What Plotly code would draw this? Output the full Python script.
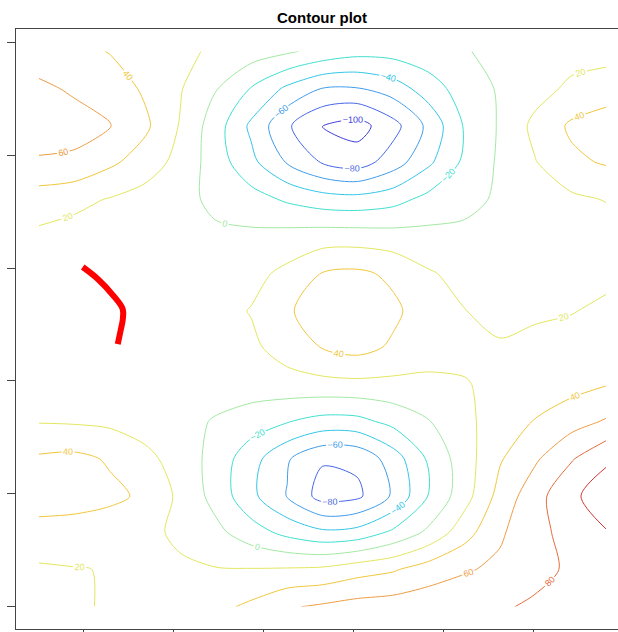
import plotly.graph_objects as go

# grid coordinates (data units)
x_grid = [0.5, 0.89, 1.29, 1.68, 2.08, 2.47, 2.86, 3.26, 3.65, 4.04, 4.44, 4.83, 5.23, 5.62, 6.01, 6.41, 6.80]
# rows listed from top (largest y) to bottom
y_grid_top_down = [4.92, 4.59, 4.26, 3.94, 3.61, 3.28, 2.95, 2.62, 2.30, 1.97, 1.64, 1.31, 0.98, 0.66, 0.33, 0.0]

z_rows_top_down = [
    [52, 46, 39, 31, 24, 17, 10, 3, -6, -13, -12, -7, -1, 4, 8, 12, 14],
    [63, 58, 51, 37, 21, 1, -21, -44, -60.5, -61, -50, -30, -10, 2, 12, 24, 28],
    [69, 66, 61, 44, 18, -11, -44, -77, -100.5, -108, -87, -55, -18, 2, 25, 43, 52],
    [58, 57, 44, 31, 13, -10, -35, -62, -82, -90, -70, -44, -16, 3, 19, 36, 42],
    [30, 25, 19, 12, 5, -4, -12, -23, -31, -33, -27, -14, -6, 3, 10, 16, 21],
    [16, 13, 10, 7, 5, 3, 4, 7, 10, 10, 8, 6, 5, 5, 6, 8, 10],
    [10, 8, 7, 7, 8, 10, 14, 25, 41, 44, 36, 22, 14, 12, 12, 13, 15],
    [8, 6, 6, 7, 9, 13, 21, 37, 52, 54, 44, 29, 20.3, 17, 17, 19, 24],
    [9, 7, 7, 8, 10, 12, 16, 29, 41, 47, 37, 28, 24, 21, 25, 28, 32],
    [12, 10, 10, 10, 10, 10, 10, 12, 14, 15, 15, 16, 19, 24, 28, 33, 39],
    [19, 18, 16, 12, 7, -2, -10, -19, -27, -26, -14, -1, 15, 30, 41, 52, 62],
    [43, 45, 38, 25, 12, -8, -32, -58, -78, -76, -50, -17, 11, 38, 57, 78, 97],
    [48, 47, 44, 37, 15, -7, -35, -61, -88, -84, -57, -19, 12, 47, 72, 96, 110],
    [34, 33, 30, 25, 16, 5, -11, -26, -36, -33, -16, 4, 32, 57, 74, 87, 99],
    [17, 19, 21, 24, 23, 21, 21, 22, 24, 32, 38, 50, 58, 64, 72, 84, 93],
    [12, 16, 23, 27, 30, 35, 44, 58, 63, 68, 70, 72, 74, 77, 84, 90, 93],
]

# overlaid red path
path_x = [0.989, 1.156, 1.333, 1.433, 1.433, 1.411, 1.378]
path_y = [3.009, 2.903, 2.752, 2.637, 2.540, 2.451, 2.327]

# contour levels and their colours
level_start, level_end, level_step = -100, 100, 20
level_colors = ["#3c3cd8", "#4466e6", "#3f9cea", "#33c6e6", "#3fdfcf", "#a2e8a2",
                "#e2e65e", "#f0c63c", "#ee9c44", "#e46c3c", "#d23434"]

x_ticks = [1, 2, 3, 4, 5, 6]
y_ticks = [0, 1, 2, 3, 4, 5]

colorscale = [[i / (len(level_colors) - 1), c] for i, c in enumerate(level_colors)]

fig = go.Figure()
fig.add_trace(go.Contour(
    x=x_grid,
    y=y_grid_top_down[::-1],
    z=z_rows_top_down[::-1],
    colorscale=colorscale,
    showscale=False,
    autocontour=False,
    contours=dict(start=level_start, end=level_end, size=level_step,
                  coloring="lines", showlabels=True,
                  labelfont=dict(size=9, family="Liberation Sans")),
    line=dict(width=1, smoothing=0.8),
    hoverinfo="skip",
))
fig.add_trace(go.Scatter(
    x=path_x, y=path_y, mode="lines",
    line=dict(color="#ff0000", width=6, shape="spline"),
    hoverinfo="skip", showlegend=False,
))

fig.update_layout(
    width=618, height=632,
    margin=dict(l=16, r=0, t=29, b=3, autoexpand=False),
    paper_bgcolor="white", plot_bgcolor="white",
    showlegend=False,
    title=dict(text="<b>Contour plot</b>", x=0.521, xref="container", xanchor="center",
               y=1 - 18 / 632, yref="container", yanchor="middle",
               font=dict(family="Liberation Sans", size=15, color="black")),
)
fig.update_xaxes(range=[0.248, 6.933], showgrid=False, zeroline=False, automargin=False,
                 showticklabels=False, tickvals=x_ticks, ticks="outside", ticklen=7,
                 tickcolor="#444", showline=True, linecolor="#444", linewidth=1, mirror=True)
fig.update_yaxes(range=[-0.197, 5.117], showgrid=False, zeroline=False, automargin=False,
                 showticklabels=False, tickvals=y_ticks, ticks="outside", ticklen=8,
                 tickcolor="#444", showline=True, linecolor="#444", linewidth=1, mirror=False)

fig.write_html("out.html", config={"displayModeBar": False},
               post_script="document.body.style.margin='0px';document.body.style.overflow='hidden';")
